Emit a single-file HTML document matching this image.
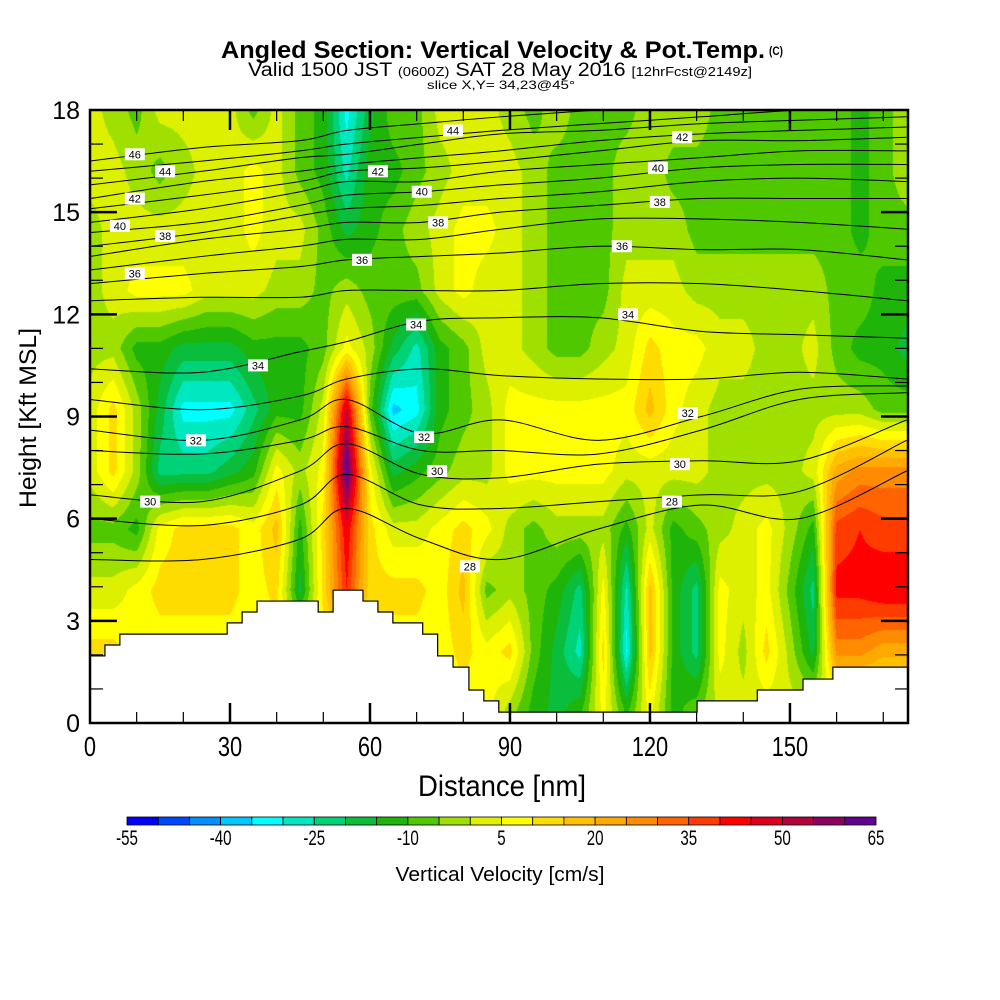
<!DOCTYPE html>
<html><head><meta charset="utf-8"><title>Angled Section</title>
<style>
html,body{margin:0;padding:0;background:#fff;width:1000px;height:1000px;overflow:hidden}
#wrap{position:relative;width:1000px;height:1000px}
#field{position:absolute;left:90px;top:110px}
#svg{position:absolute;left:0;top:0}
text{font-family:"Liberation Sans",sans-serif}
</style></head>
<body>
<div id="wrap">
<canvas id="field" width="818" height="613"></canvas>
<svg id="svg" width="1000" height="1000" xmlns="http://www.w3.org/2000/svg">
  <defs><clipPath id="plotclip"><rect x="90" y="110" width="818" height="613"/></clipPath></defs>
  <g id="terrain-g"></g>
  <g id="theta-g" clip-path="url(#plotclip)"></g>
  <g id="labels-g"></g>
  <rect x="90" y="110" width="818" height="613" fill="none" stroke="#000" stroke-width="2.5"/>
  <g id="ticks-g"></g>
  <g id="xlab-g"></g>
  <g id="ylab-g"></g>
  <text x="502" y="796" font-size="30" text-anchor="middle" textLength="168" lengthAdjust="spacingAndGlyphs">Distance [nm]</text>
  <text transform="translate(36,418) rotate(-90)" font-size="24" text-anchor="middle" textLength="180" lengthAdjust="spacingAndGlyphs">Height [Kft MSL]</text>
  <text x="221" y="58" font-size="24" font-weight="bold" textLength="544" lengthAdjust="spacingAndGlyphs">Angled Section: Vertical Velocity &amp; Pot.Temp.</text>
  <text x="769" y="55" font-size="12" font-weight="bold" textLength="14" lengthAdjust="spacingAndGlyphs">(C)</text>
  <text x="500" y="76" font-size="19" text-anchor="middle" textLength="504" lengthAdjust="spacingAndGlyphs">Valid 1500 JST <tspan font-size="13">(0600Z)</tspan> SAT 28 May 2016 <tspan font-size="13">[12hrFcst@2149z]</tspan></text>
  <text x="501" y="89" font-size="12" text-anchor="middle" textLength="148" lengthAdjust="spacingAndGlyphs">slice X,Y= 34,23@45°</text>
  <g id="cbar-g"></g>
  <text x="500" y="881" font-size="20" text-anchor="middle" textLength="209" lengthAdjust="spacingAndGlyphs">Vertical Velocity [cm/s]</text>
</svg>
</div>
<script>
// ---- data ----
const levelColors = ["#0000ff","#0048ff","#0090ff","#00c8ff","#00ffff","#00e8c0","#00d278","#0abe3c","#1eb40a","#50c800","#a0e000","#dcf000","#ffff00","#ffdc00","#ffc000","#ffaa00","#ff8c00","#ff6400","#ff3c00","#ff0000","#dc0020","#b4003c","#8c0064","#640090"];
const levelMin = -55;
const levelStep = 5;
const colorbarTicks = [-55,-40,-25,-10,5,20,35,50,65];
const xTicks = [0,30,60,90,120,150];
const yTicks = [0,3,6,9,12,15,18];
const gridDist = [0,5,10,15,20,25,30,35,40,45,50,55,60,65,70,75,80,85,90,95,100,105,110,115,120,125,130,135,140,145,150,155,160,165,170,175];
const gridHeight = [18,16.2,14.5,12.7,11.0,9.2,7.4,5.7,3.9,2.1,0.4];
const wRow0 = [2,-2,-7,2,2,2,2,-7,2,-7,-12,-32,-17,-7,-7,2,2,2, -2,-7,-2,-7,-7,-7,-2,-2,-2,-7,-7,-7,-7,-7,-7,-12,-7,-2];
const wRow1 = [2,2,-2,-7,-2,2,2,7,2,-7,-12,-27,-12,-12,-7,-2,2,2, 2,-2,-7,-7,-7,-2,-2,-7,-7,-7,-7,-7,-7,-7,-7,-12,-7,-2];
const wRow2 = [-2,2,2,2,2,2,2,7,2,2,-7,-17,-12,-7,-2,2,7,7, 2,-2,-7,-7,-7,-2,-2,-2,-7,-7,-7,-7,-7,-7,-7,-12,-7,-7];
const wRow3 = [-2,2,7,7,7,2,2,2,-2,-2,-7,-2,-7,-7,-7,2,7,2, 2,-2,-7,-7,-7,2,2,2,-2,-2,-2,-2,-2,-2,-7,-7,-12,-12];
const wRow4 = [-2,-2,-12,-12,-17,-17,-17,-12,-12,-12,-7,7,-2,-17,-27,-12,-7,2, 2,-2,-7,-7,-2,2,12,7,7,2,2,-2,-2,2,-7,-12,-12,-17];
const wRow5 = [2,12,-2,-17,-32,-32,-32,-22,-12,-12,2,50,-7,-37,-32,-12,-7,-2, 7,7,7,7,7,7,17,7,2,-2,-2,-2,-2,-2,-2,-2,-7,-7];
const wRow6 = [2,12,-2,-22,-22,-22,-17,-12,7,-2,7,65,7,-17,-12,-7,-2,-2, 7,7,7,7,7,2,2,2,2,-2,-2,-2,-2,2,22,27,27,27];
const wRow7 = [-7,-7,-12,7,12,12,12,7,17,-12,12,45,12,2,2,7,12,7, -2,-7,-2,-2,-2,-12,2,-12,-7,-2,2,7,-2,-12,37,40,37,37];
const wRow8 = [2,2,7,12,12,12,12,7,12,-17,12,40,12,12,12,7,17,-7, -2,-7,-12,-22,7,-27,17,-12,-22,7,2,7,-7,-22,42,42,45,45];
const wRow9 = [12,12,7,7,7,7,7,7,7,7,7,7,7,7,7,7,12,7, 12,-7,-17,-27,12,-32,17,-12,-22,7,-2,12,-2,-17,27,27,22,22];
const wRow10 = [7,7,7,7,7,7,7,7,7,7,7,7,7,7,7,7,7,7, -2,-12,-17,-12,7,-12,7,-12,-7,2,2,2,2,2,2,2,2,2];
const terrainDist = [0,3.2,6.4,29.4,32.6,35.8,48.9,52.1,58.5,61.7,64.9,71.3,74.5,77.8,81.2,84.4,87.6,130.1,143,152.8,159.2,175.3];
const terrainTop = [1.97,2.29,2.61,2.94,3.26,3.58,3.26,3.9,3.58,3.26,2.94,2.61,1.97,1.64,0.97,0.65,0.32,0.65,0.97,1.29,1.64,1.64];
const thetaNodeDist = [0,24,45,55,71,88,109,131,152,175];
const thetaValues = [46,45,44,43,42,41,40,39,38,37,36,35,34,33,32,31,30,29,28];
const th46 = [16.5,16.9,17.1,17.4,17.6,17.8,18.0,18.2,18.3,18.4];
const th45 = [16.2,16.5,16.8,17.0,17.2,17.4,17.6,17.8,18.0,18.1];
const th44 = [15.8,16.2,16.6,16.7,17.0,17.3,17.4,17.6,17.7,17.8];
const th43 = [15.4,15.9,16.2,16.4,16.6,16.8,17.1,17.3,17.4,17.5];
const th42 = [15.1,15.5,15.9,16.2,16.3,16.5,16.8,17.1,17.1,17.2];
const th41 = [14.7,15.1,15.6,15.9,15.9,16.2,16.4,16.6,16.8,16.8];
const th40 = [14.4,14.7,15.2,15.5,15.6,15.8,16.0,16.3,16.4,16.4];
const th39 = [14.0,14.4,14.9,15.1,15.2,15.4,15.6,15.9,16.0,15.9];
const th38 = [13.7,14.2,14.5,14.7,14.7,15.0,15.2,15.4,15.4,15.4];
const th37 = [13.3,13.7,14.0,14.2,14.2,14.5,14.8,14.8,14.7,14.5];
const th36 = [12.9,13.2,13.4,13.6,13.7,13.8,14.0,13.9,13.9,13.6];
const th35 = [12.4,12.5,12.5,12.7,12.7,12.7,12.9,12.9,12.7,12.4];
const th34 = [10.4,10.3,10.9,11.2,11.8,11.9,11.9,11.5,11.4,11.3];
const th33 = [9.5,9.2,9.6,10.1,10.4,10.2,10.1,10.1,10.3,10.1];
const th32 = [8.6,8.3,8.9,9.5,8.5,8.9,8.3,9.0,9.8,9.9];
const th31 = [8.0,7.9,8.3,8.7,8.0,8.0,7.9,8.6,9.5,9.7];
const th30 = [6.7,6.5,7.4,8.2,7.3,7.2,7.6,7.7,7.7,8.9];
const th29 = [6.0,5.8,6.4,7.3,6.4,6.3,6.5,6.7,6.8,8.3];
const th28 = [4.8,4.8,5.4,6.3,5.4,4.8,5.7,6.4,6.0,7.4];
const labelText = ["46","44","44","42","42","42","40","40","40","38","38","38","36","36","36","34","34","34","32","32","32","30","30","30","28","28"];
const labelDist = [9.6,16.1,77.8,9.6,61.7,126.9,6.4,71.1,121.7,16.1,74.6,122.1,9.6,58.3,114,36,69.9,115.3,22.7,71.6,128.1,12.9,74.4,126.4,81.4,124.7];
const labelHeight = [16.7,16.2,17.4,15.4,16.2,17.2,14.6,15.6,16.3,14.3,14.7,15.3,13.2,13.6,14.0,10.5,11.7,12.0,8.3,8.4,9.1,6.5,7.4,7.6,4.6,6.5];

// ---- scales ----
const X0=90, X1=908, Y0=723, Y1=110, DMAX=175.3, HMAX=18;
function xs(d){return X0+(d/DMAX)*(X1-X0);}
function ys(h){return Y0-(h/HMAX)*(Y0-Y1);}
const NS="http://www.w3.org/2000/svg";
function mk(tag,attrs,parent){const e=document.createElementNS(NS,tag);for(const k in attrs)e.setAttribute(k,attrs[k]);parent.appendChild(e);return e;}

// ---- field ----
const rows=[wRow0,wRow1,wRow2,wRow3,wRow4,wRow5,wRow6,wRow7,wRow8,wRow9,wRow10];
function hexToRgb(h){return [parseInt(h.substr(1,2),16),parseInt(h.substr(3,2),16),parseInt(h.substr(5,2),16)];}
const rgb=levelColors.map(hexToRgb);
function sample(d,h){
  let c=Math.floor(d/5); if(c<0)c=0; if(c>gridDist.length-2)c=gridDist.length-2;
  let tx=(d-gridDist[c])/(gridDist[c+1]-gridDist[c]); tx=Math.max(0,Math.min(1,tx));
  let r=0; while(r<gridHeight.length-2 && h<gridHeight[r+1]) r++;
  let ty=(gridHeight[r]-h)/(gridHeight[r]-gridHeight[r+1]); ty=Math.max(0,Math.min(1,ty));
  const a=rows[r][c]*(1-tx)+rows[r][c+1]*tx;
  const b=rows[r+1][c]*(1-tx)+rows[r+1][c+1]*tx;
  return a*(1-ty)+b*ty;
}
(function(){
  const cv=document.getElementById('field');const ctx=cv.getContext('2d');
  const W=cv.width,H=cv.height;const img=ctx.createImageData(W,H);
  for(let py=0;py<H;py++){
    const h=(Y0-(Y1+py+0.5))/(Y0-Y1)*HMAX;
    for(let px=0;px<W;px++){
      const d=(px+0.5)/(X1-X0)*DMAX;
      const v=sample(d,h);
      let idx=Math.floor((v-levelMin)/levelStep); idx=Math.max(0,Math.min(levelColors.length-1,idx));
      const o=(py*W+px)*4;const c=rgb[idx];
      img.data[o]=c[0];img.data[o+1]=c[1];img.data[o+2]=c[2];img.data[o+3]=255;
    }
  }
  ctx.putImageData(img,0,0);
})();

// ---- terrain ----
(function(){
  const g=document.getElementById('terrain-g');
  let p=`M${xs(terrainDist[0])},${ys(0)}`;
  for(let i=0;i<terrainDist.length-1;i++){
    p+=` L${xs(terrainDist[i])},${ys(terrainTop[i])} L${xs(terrainDist[i+1])},${ys(terrainTop[i])}`;
  }
  p+=` L${xs(DMAX)},${ys(0)} Z`;
  const t=mk('path',{d:p,fill:'#fff',stroke:'#000','stroke-width':'1.2'},g);
  
  
})();

// ---- theta contours ----
(function(){
  const g=document.getElementById('theta-g');
  const lines=[th46,th45,th44,th43,th42,th41,th40,th39,th38,th37,th36,th35,th34,th33,th32,th31,th30,th29,th28];
  lines.forEach((arr,li)=>{
    const pts=arr.map((h,i)=>[xs(thetaNodeDist[i]),ys(h)]);
    let d=`M${pts[0][0]},${pts[0][1]}`;
    for(let i=0;i<pts.length-1;i++){
      const p0=pts[Math.max(0,i-1)],p1=pts[i],p2=pts[i+1],p3=pts[Math.min(pts.length-1,i+2)];
      const c1=[p1[0]+(p2[0]-p0[0])/6,p1[1]+(p2[1]-p0[1])/6];
      const c2=[p2[0]-(p3[0]-p1[0])/6,p2[1]-(p3[1]-p1[1])/6];
      d+=` C${c1[0]},${c1[1]} ${c2[0]},${c2[1]} ${p2[0]},${p2[1]}`;
    }
    const path=mk('path',{d:d,fill:'none',stroke:'#000','stroke-width':'1'},g);
    
    
  });
  const lg=document.getElementById('labels-g');
  labelText.forEach((t,i)=>{
    const x=xs(labelDist[i]),y=ys(labelHeight[i]);
    const r=mk('rect',{x:x-10,y:y-6,width:20,height:12,fill:'#fff'},lg);
    
    
    const tx=mk('text',{x:x,y:y+4,'font-size':'11','text-anchor':'middle'},lg);
    tx.textContent=t;
    
    
  });
})();

// ---- axes ----
(function(){
  const g=document.getElementById('ticks-g');
  for(let d=10;d<DMAX;d+=10){
    const major=d%30===0;const L=major?20:11;const x=xs(d);
    const a=mk('line',{x1:x,y1:Y0,x2:x,y2:Y0-L,stroke:'#000','stroke-width':major?2.5:1.2},g);
    
    
    const b=mk('line',{x1:x,y1:Y1,x2:x,y2:Y1+L,stroke:'#000','stroke-width':major?2.5:1.2},g);
    
    
  }
  for(let h=1;h<HMAX;h+=1){
    const major=h%3===0;const L=major?27:13;const y=ys(h);
    const a=mk('line',{x1:X0,y1:y,x2:X0+L,y2:y,stroke:'#000','stroke-width':major?2.5:1.2},g);
    
    
    const b=mk('line',{x1:X1,y1:y,x2:X1-L,y2:y,stroke:'#000','stroke-width':major?2.5:1.2},g);
    
    
  }
  const xl=document.getElementById('xlab-g');
  xTicks.forEach(v=>{
    const t=mk('text',{x:xs(v),y:756,'font-size':'28','text-anchor':'middle',transform:`translate(${xs(v)*0.22},0) scale(0.78,1)`},xl);
    t.textContent=String(v);
    
    
  });
  const yl=document.getElementById('ylab-g');
  yTicks.forEach(v=>{
    const t=mk('text',{x:80,y:ys(v)+9,'font-size':'25','text-anchor':'end'},yl);
    t.textContent=String(v);
    
    
  });
})();

// ---- colorbar ----
(function(){
  const g=document.getElementById('cbar-g');
  const cx0=127,cx1=876,cy=817,ch=8;const n=levelColors.length;const w=(cx1-cx0)/n;
  levelColors.forEach((c,i)=>{
    const r=mk('rect',{x:cx0+i*w,y:cy,width:w,height:ch,fill:c,stroke:'#000','stroke-width':'0.8'},g);
    
    
  });
  colorbarTicks.forEach(v=>{
    const x=cx0+(v-levelMin)/levelStep*w;
    const t=mk('text',{x:x,y:845,'font-size':'21','text-anchor':'middle',transform:`translate(${x*0.28},0) scale(0.72,1)`},g);
    t.textContent=String(v);
    
    
  });
})();
</script>
</body></html>
